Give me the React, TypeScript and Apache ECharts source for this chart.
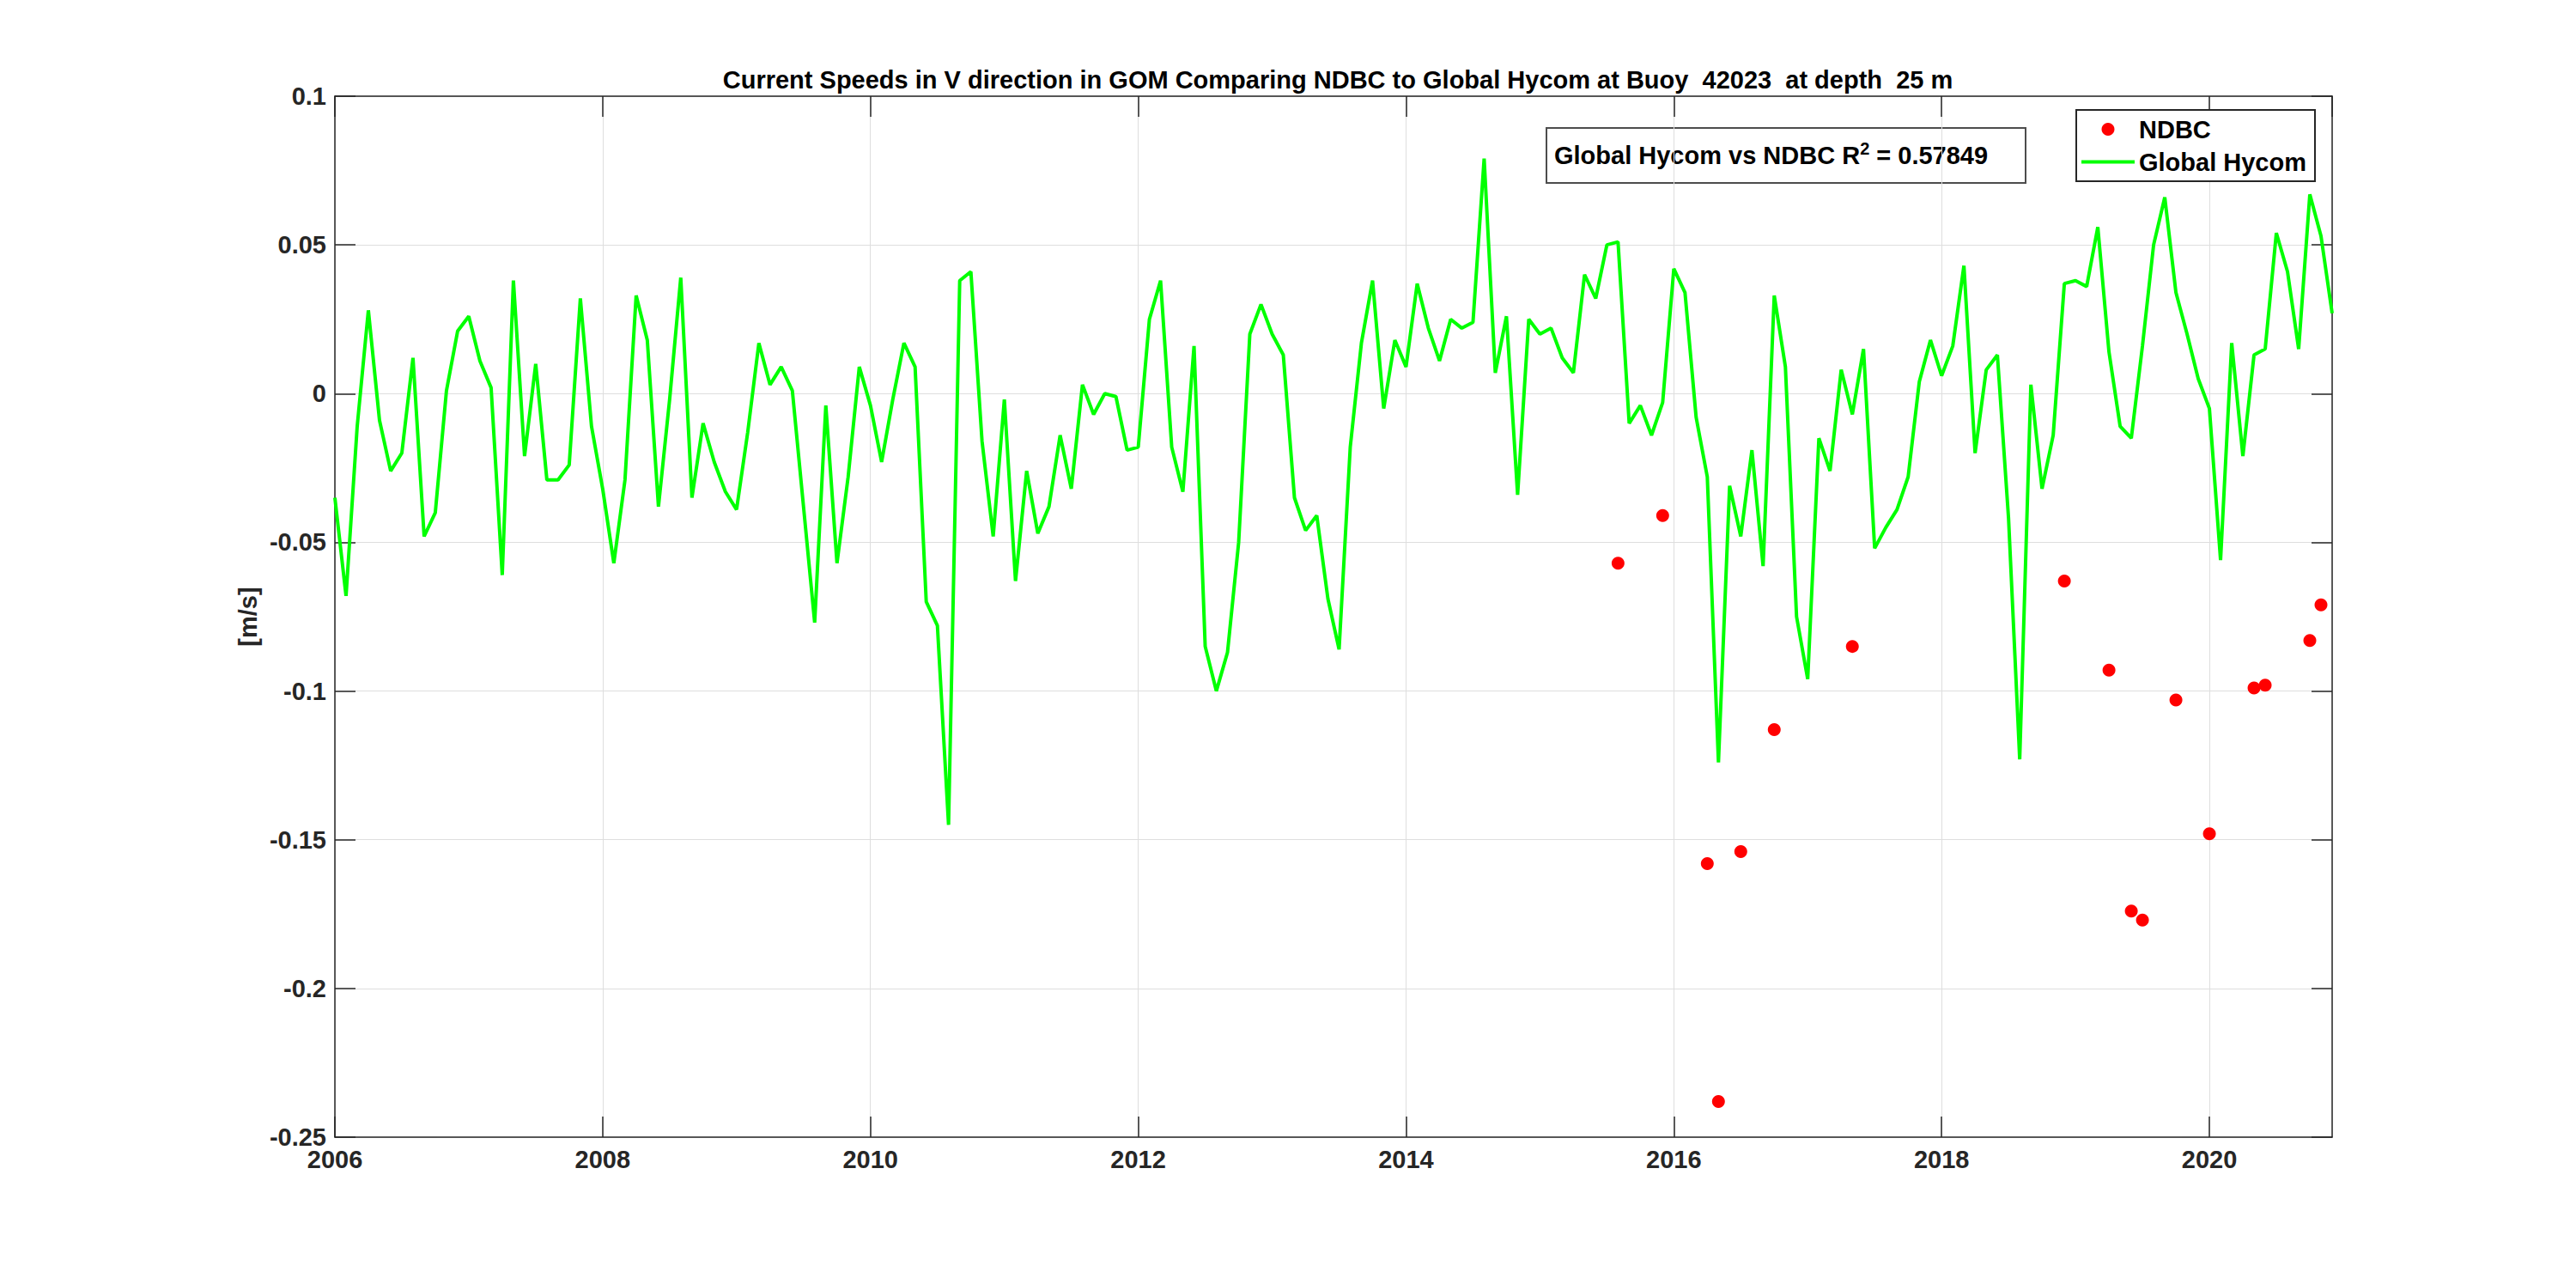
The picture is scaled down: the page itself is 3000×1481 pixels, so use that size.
import React, { useEffect, useRef } from "react";
import * as echarts from "echarts";

// ---- Data ----
const startYear = 2006; // monthly values, first = Jan 2006
const hycomValues: number[] = [
  // 2006
  -0.035, -0.068, -0.011, 0.028, -0.009, -0.026, -0.02, 0.012, -0.048, -0.04, 0.001, 0.021,
  // 2007
  0.026, 0.011, 0.002, -0.061, 0.038, -0.021, 0.01, -0.029, -0.029, -0.024, 0.032, -0.011,
  // 2008
  -0.032, -0.057, -0.029, 0.033, 0.018, -0.038, -0.002, 0.039, -0.035, -0.01, -0.023, -0.033,
  // 2009
  -0.039, -0.013, 0.017, 0.003, 0.009, 0.001, -0.038, -0.077, -0.004, -0.057, -0.028, 0.009,
  // 2010
  -0.004, -0.023, -0.002, 0.017, 0.009, -0.07, -0.078, -0.145, 0.038, 0.041, -0.016, -0.048,
  // 2011
  -0.002, -0.063, -0.026, -0.047, -0.038, -0.014, -0.032, 0.003, -0.007, 0.0, -0.001, -0.019,
  // 2012
  -0.018, 0.025, 0.038, -0.018, -0.033, 0.016, -0.085, -0.1, -0.087, -0.05, 0.02, 0.03,
  // 2013
  0.02, 0.013, -0.035, -0.046, -0.041, -0.069, -0.086, -0.018, 0.017, 0.038, -0.005, 0.018,
  // 2014
  0.009, 0.037, 0.022, 0.011, 0.025, 0.022, 0.024, 0.079, 0.007, 0.026, -0.034, 0.025,
  // 2015
  0.02, 0.022, 0.012, 0.007, 0.04, 0.032, 0.05, 0.051, -0.01, -0.004, -0.014, -0.003,
  // 2016
  0.042, 0.034, -0.008, -0.028, -0.124, -0.031, -0.048, -0.019, -0.058, 0.033, 0.009, -0.075,
  // 2017
  -0.096, -0.015, -0.026, 0.008, -0.007, 0.015, -0.052, -0.045, -0.039, -0.028, 0.004, 0.018,
  // 2018
  0.006, 0.016, 0.043, -0.02, 0.008, 0.013, -0.042, -0.123, 0.003, -0.032, -0.014, 0.037,
  // 2019
  0.038, 0.036, 0.056, 0.014, -0.011, -0.015, 0.016, 0.05, 0.066, 0.034, 0.02, 0.005,
  // 2020
  -0.005, -0.056, 0.017, -0.021, 0.013, 0.015, 0.054, 0.041, 0.015, 0.067, 0.053, 0.027,
];

const ndbcMonths: string[] = [
  "2015-08", "2015-12", "2016-04", "2016-05", "2016-07", "2016-10", "2017-05",
  "2018-12", "2019-04", "2019-06", "2019-07", "2019-10", "2020-01", "2020-05",
  "2020-06", "2020-10", "2020-11",
];
const ndbcValues: number[] = [
  -0.057, -0.041, -0.158, -0.238, -0.154, -0.113, -0.085,
  -0.063, -0.093, -0.174, -0.177, -0.103, -0.148, -0.099,
  -0.098, -0.083, -0.071,
];

const yTicks = { min: -0.25, max: 0.1, interval: 0.05 };
const xTicks = { min: 2006, interval: 2 };

const titleText =
  "Current Speeds in V direction in GOM Comparing NDBC to Global Hycom at Buoy  42023  at depth  25 m";
const r2Text = "0.57849";

const FONT = "'Liberation Sans', Arial, Helvetica, sans-serif";
const AXIS_COLOR = "#262626";

function monthToYear(m: string): number {
  const [y, mo] = m.split("-").map(Number);
  return y + (mo - 1) / 12;
}

export default function App() {
  const ref = useRef<HTMLDivElement>(null);

  useEffect(() => {
    if (!ref.current) return;
    const chart = echarts.init(ref.current, undefined, { renderer: "svg" });

    const hycomData = hycomValues.map((v, i) => [startYear + i / 12, v]);
    const ndbcData = ndbcMonths.map((m, i) => [monthToYear(m), ndbcValues[i]]);
    const xMax = startYear + (hycomValues.length - 1) / 12;

    const labelStyle = {
      fontFamily: FONT,
      fontWeight: "bold" as const,
      fontSize: 29,
      color: AXIS_COLOR,
    };
    const lineStyle = { color: AXIS_COLOR, width: 1.5 };
    const split = { show: true, lineStyle: { color: "#dedede", width: 1 } };

    const option: any = {
      animation: false,
      backgroundColor: "#ffffff",
      title: {
        text: titleText,
        left: 1553,
        top: 73,
        textAlign: "center",
        textStyle: { fontFamily: FONT, fontWeight: "bold", fontSize: 29, color: "#000" },
      },
      grid: { left: 390, right: 284, top: 112, bottom: 157, containLabel: false },
      legend: {
        orient: "vertical",
        left: 2418,
        top: 128,
        padding: [8, 10, 8, 6],
        itemGap: 9,
        itemWidth: 62,
        itemHeight: 15,
        symbolKeepAspect: true,
        backgroundColor: "#ffffff",
        borderColor: AXIS_COLOR,
        borderWidth: 2,
        borderRadius: 0,
        textStyle: { fontFamily: FONT, fontWeight: "bold", fontSize: 29, color: "#000" },
        data: [
          { name: "NDBC", icon: "circle", itemStyle: { color: "#ff0000", opacity: 1 } },
          { name: "Global Hycom", icon: "path://M0,0 L62,0 L62,4 L0,4 Z", itemStyle: { color: "#00ff00" } },
        ],
      },
      xAxis: [
        {
          type: "value",
          min: xTicks.min,
          max: xMax,
          interval: xTicks.interval,
          position: "bottom",
          axisLine: { show: true, onZero: false, lineStyle },
          axisTick: { show: true, inside: true, length: 24, lineStyle },
          axisLabel: {
            ...labelStyle,
            margin: 11,
            showMaxLabel: false,
            formatter: (v: number) => String(Math.round(v)),
          },
          splitLine: split,
        },
        {
          type: "value",
          min: xTicks.min,
          max: xMax,
          interval: xTicks.interval,
          position: "top",
          axisLine: { show: true, onZero: false, lineStyle },
          axisTick: { show: true, inside: true, length: 24, lineStyle },
          axisLabel: { show: false },
          splitLine: { show: false },
        },
      ],
      yAxis: [
        {
          type: "value",
          min: yTicks.min,
          max: yTicks.max,
          interval: yTicks.interval,
          position: "left",
          name: "[m/s]",
          nameLocation: "middle",
          nameGap: 85,
          nameTextStyle: { ...labelStyle },
          axisLine: { show: true, onZero: false, lineStyle },
          axisTick: { show: true, inside: true, length: 24, lineStyle },
          axisLabel: {
            ...labelStyle,
            margin: 10,
            formatter: (v: number) => String(Number(v.toFixed(2))),
          },
          splitLine: split,
        },
        {
          type: "value",
          min: yTicks.min,
          max: yTicks.max,
          interval: yTicks.interval,
          position: "right",
          axisLine: { show: true, onZero: false, lineStyle },
          axisTick: { show: true, inside: true, length: 24, lineStyle },
          axisLabel: { show: false },
          splitLine: { show: false },
        },
      ],
      series: [
        {
          name: "NDBC",
          type: "scatter",
          xAxisIndex: 0,
          yAxisIndex: 0,
          symbol: "circle",
          symbolSize: 15,
          itemStyle: { color: "#ff0000", opacity: 1 },
          data: ndbcData,
          z: 3,
        },
        {
          name: "Global Hycom",
          type: "line",
          xAxisIndex: 0,
          yAxisIndex: 0,
          symbol: "none",
          showSymbol: false,
          lineStyle: { color: "#00ff00", width: 4 },
          itemStyle: { color: "#00ff00" },
          data: hycomData,
          z: 2,
        },
      ],
      graphic: [
        {
          type: "group",
          left: 1800,
          top: 148,
          z: 100,
          children: [
            {
              type: "rect",
              shape: { x: 0, y: 0, width: 558, height: 64 },
              style: { fill: "#ffffff", stroke: "#4d4d4d", lineWidth: 2 },
            },
            {
              type: "text",
              x: 9,
              y: 32,
              style: {
                text: `{a|Global Hycom vs NDBC R}{s|2}{a| = ${r2Text}}`,
                verticalAlign: "middle",
                rich: {
                  a: { fontFamily: FONT, fontWeight: "bold", fontSize: 29, fill: "#000", lineHeight: 36 },
                  s: { fontFamily: FONT, fontWeight: "bold", fontSize: 20, fill: "#000", verticalAlign: "top" },
                },
              },
            },
          ],
        },
      ],
    };

    chart.setOption(option);
    return () => chart.dispose();
  }, []);

  return (
    <div
      ref={ref}
      style={{ position: "absolute", left: 0, top: 0, width: 3000, height: 1481, background: "#fff" }}
    />
  );
}
